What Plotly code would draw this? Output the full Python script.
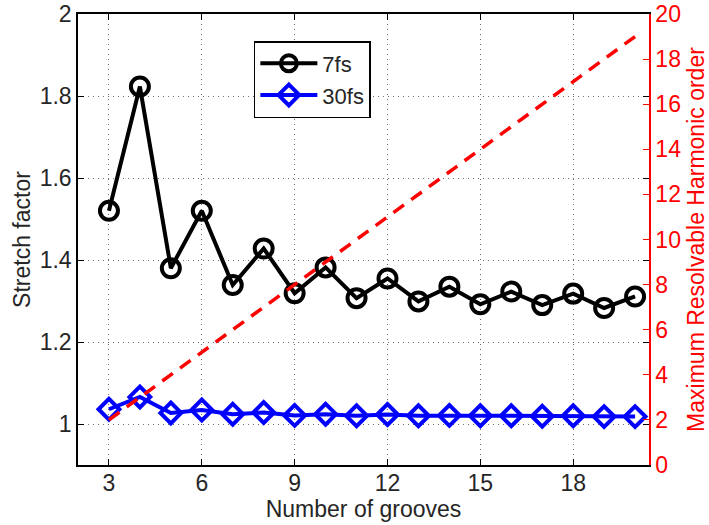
import plotly.graph_objects as go

grooves = [3, 4, 5, 6, 7, 8, 9, 10, 11, 12, 13, 14, 15, 16, 17, 18, 19, 20]
stretch_7fs = [1.520, 1.823, 1.380, 1.520, 1.339, 1.428, 1.319, 1.382, 1.307, 1.355,
               1.299, 1.335, 1.292, 1.323, 1.290, 1.318, 1.283, 1.311]
stretch_30fs = [1.036, 1.066, 1.027, 1.034, 1.024, 1.028, 1.021, 1.024, 1.020, 1.023,
                1.020, 1.021, 1.020, 1.020, 1.019, 1.020, 1.018, 1.018]
harmonic_order = [2, 3, 4, 5, 6, 7, 8, 9, 10, 11, 12, 13, 14, 15, 16, 17, 18, 19]

x_ticks = [3, 6, 9, 12, 15, 18]
y_ticks = [1, 1.2, 1.4, 1.6, 1.8, 2]
y_ticklabels = ["1", "1.2", "1.4", "1.6", "1.8", "2"]
y2_ticks = [0, 2, 4, 6, 8, 10, 12, 14, 16, 18, 20]

FONT = "Liberation Sans, Arial, Helvetica, sans-serif"
TXT = "#262626"
FS = 23
GRID = "#6a6a6a"
GRIDDASH = "1px,4px"

fig = go.Figure()

fig.add_trace(go.Scatter(
    x=grooves, y=harmonic_order, yaxis="y2", mode="lines",
    line=dict(color="#ff0000", width=3.5, dash="13px,9px"),
    showlegend=False, hoverinfo="skip"))

fig.add_trace(go.Scatter(
    x=grooves, y=stretch_7fs, mode="lines+markers", name="7fs",
    line=dict(color="black", width=4),
    marker=dict(symbol="circle-open", size=18, color="black",
                line=dict(width=4, color="black"))))

fig.add_trace(go.Scatter(
    x=grooves, y=stretch_30fs, mode="lines+markers", name="30fs",
    line=dict(color="#0000ff", width=4),
    marker=dict(symbol="diamond-open", size=16, color="#0000ff",
                line=dict(width=4, color="#0000ff"))))

fig.update_layout(
    width=709, height=525,
    margin=dict(l=78, r=60, t=13.5, b=60),
    plot_bgcolor="white", paper_bgcolor="white",
    font=dict(family=FONT, size=FS, color=TXT),
    xaxis=dict(
        range=[2, 20.45], tickvals=x_ticks, ticks="inside", ticklen=6,
        tickcolor="black", showline=True, linecolor="black", linewidth=1.5,
        mirror="ticks", showgrid=True, gridcolor=GRID, griddash=GRIDDASH,
        gridwidth=1, zeroline=False, automargin=False, ticklabelstandoff=-3,
        title=dict(text="Number of grooves", standoff=0,
                   font=dict(size=FS, color=TXT)),
        tickfont=dict(size=FS, color=TXT)),
    yaxis=dict(
        range=[0.9, 2], tickvals=y_ticks, ticktext=y_ticklabels,
        ticks="inside", ticklen=6, tickcolor="black", showline=True,
        linecolor="black", linewidth=1.5, mirror="ticks", showgrid=True,
        gridcolor=GRID, griddash=GRIDDASH, gridwidth=1, zeroline=False,
        automargin=False,
        title=dict(text="Stretch factor", standoff=3,
                   font=dict(size=FS, color=TXT)),
        tickfont=dict(size=FS, color=TXT)),
    yaxis2=dict(
        range=[0, 20], tickvals=y2_ticks, overlaying="y", side="right",
        ticks="inside", ticklen=6, tickcolor="#ff0000", showline=True,
        linecolor="#ff0000", linewidth=1.5, showgrid=False, zeroline=False,
        automargin=False,
        tickfont=dict(size=FS, color="#ff0000"),
        title=dict(text="Maximum Resolvable Harmonic order", standoff=13,
                   font=dict(size=FS, color="#ff0000"))),
    legend=dict(
        x=0.308, y=0.94, xanchor="left", yanchor="top",
        bgcolor="white", bordercolor="black", borderwidth=1.5,
        font=dict(size=22, color=TXT), itemwidth=57,
        tracegroupgap=0),
    showlegend=True,
)

# remove the default 8px page margin so the figure sits at the window's corner
fig.write_html("out.html", config={"displayModeBar": False},
               post_script="document.body.style.margin='0';")
